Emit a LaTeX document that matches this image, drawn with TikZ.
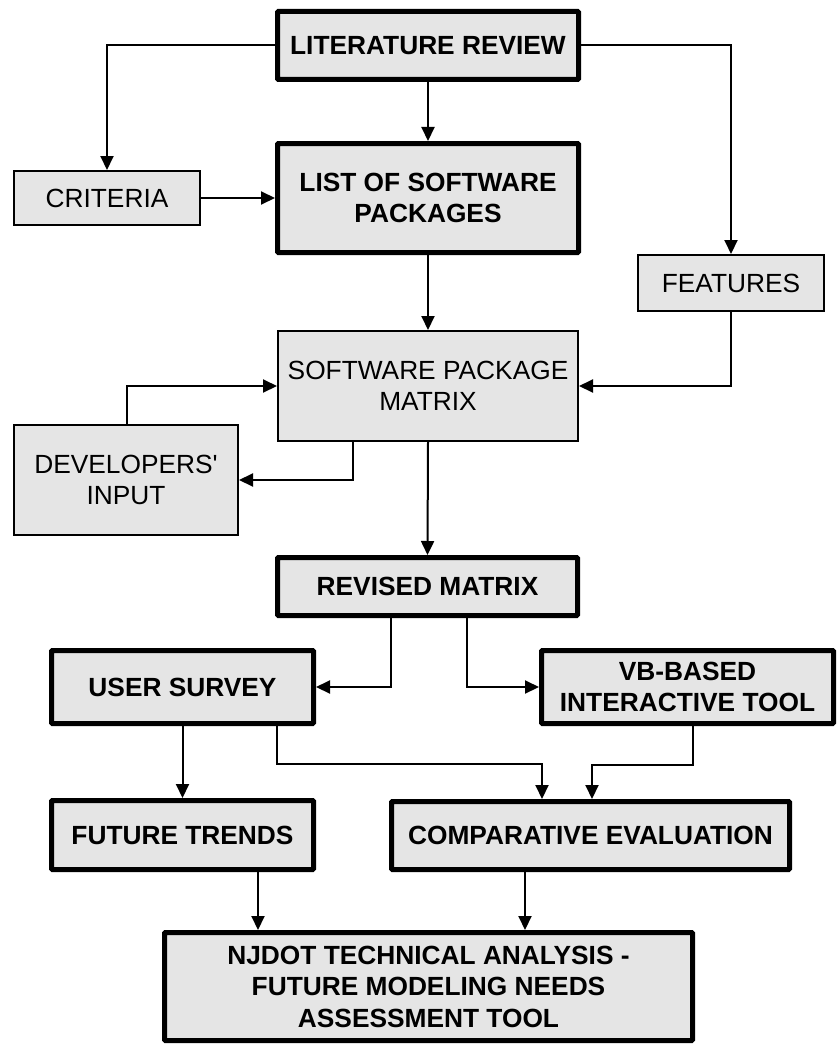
\documentclass[tikz,border=0pt]{standalone}
\usepackage{fontspec}
\setmainfont{Liberation Sans}[Ligatures=TeXOff]
\usetikzlibrary{arrows.meta}

\definecolor{boxfill}{RGB}{229,229,229}

\tikzset{
  thinbox/.style={draw=black, line width=2pt, fill=boxfill, align=center,
    inner sep=0pt, font=\fontsize{26.3}{31.5}\selectfont},
  thickbox/.style={draw=black, line width=5pt, fill=boxfill, align=center,
    inner sep=0pt, rounded corners=1pt, font=\fontsize{26.3}{31.5}\selectfont\bfseries},
  conn/.style={draw=black, line width=2pt,
    -{Triangle[length=14pt,width=13pt]}},
}

\begin{document}
\begin{tikzpicture}[x=1pt,y=-1pt]
\useasboundingbox (0,0) rectangle (840,1046);

% boxes
\node[thickbox, minimum width=301pt, minimum height=68pt] (lit) at (428,45.5) {LITERATURE REVIEW};
\node[thinbox, minimum width=186pt, minimum height=54pt] (crit) at (107,198) {CRITERIA};
\node[thickbox, minimum width=301pt, minimum height=109pt] (list) at (428,198) {LIST OF SOFTWARE\\PACKAGES};
\node[thinbox, minimum width=186pt, minimum height=56pt] (feat) at (731,283) {FEATURES};
\node[thinbox, minimum width=300pt, minimum height=110pt] (spm) at (428,386) {SOFTWARE PACKAGE\\MATRIX};
\node[thinbox, minimum width=224pt, minimum height=110pt] (dev) at (126,480) {DEVELOPERS'\\INPUT};
\node[thickbox, minimum width=300pt, minimum height=58pt] (rev) at (427.5,586.5) {REVISED MATRIX};
\node[thickbox, minimum width=262pt, minimum height=73pt] (us) at (182.5,687) {USER SURVEY};
\node[thickbox, minimum width=292pt, minimum height=73pt] (vb) at (687.5,687) {VB-BASED\\INTERACTIVE TOOL};
\node[thickbox, minimum width=262pt, minimum height=69pt] (ft) at (182.5,835) {FUTURE TRENDS};
\node[thickbox, minimum width=398pt, minimum height=68pt] (ce) at (590.5,835.5) {COMPARATIVE EVALUATION};
\node[thickbox, minimum width=528pt, minimum height=108pt] (nj) at (428.5,986.5) {NJDOT TECHNICAL ANALYSIS -\\FUTURE MODELING NEEDS\\ASSESSMENT TOOL};

% connectors
\draw[conn] (lit.west) -| (crit.north);
\draw[conn] (lit.south) -- (list.north);
\draw[conn] (lit.east) -| (feat.north);
\draw[conn] (crit.east) -- (list.west);
\draw[conn] (list.south) -- (spm.north);
\draw[conn] (feat.south) |- (spm.east);
\draw[conn] ([xshift=1pt]dev.north) |- (spm.west);
\draw[conn] ([xshift=-75pt]spm.south) |- (dev.east);
\draw[conn] (spm.south) -- (rev.north);
\draw[conn] ([xshift=-36.5pt]rev.south) |- (us.east);
\draw[conn] ([xshift=39.5pt]rev.south) |- (vb.west);
\draw[conn] (us.south) -- (ft.north);
\draw[conn] ([xshift=94.5pt]us.south) -- ++(0,38) -| ([xshift=-48.5pt]ce.north);
\draw[conn] ([xshift=5.5pt]vb.south) -- ++(0,39) -| ([xshift=1.5pt]ce.north);
\draw[conn] ([xshift=75.5pt]ft.south) -- ([xshift=-170.5pt]nj.north);
\draw[conn] ([xshift=-65.5pt]ce.south) -- ([xshift=96.5pt]nj.north);
\end{tikzpicture}
\end{document}
